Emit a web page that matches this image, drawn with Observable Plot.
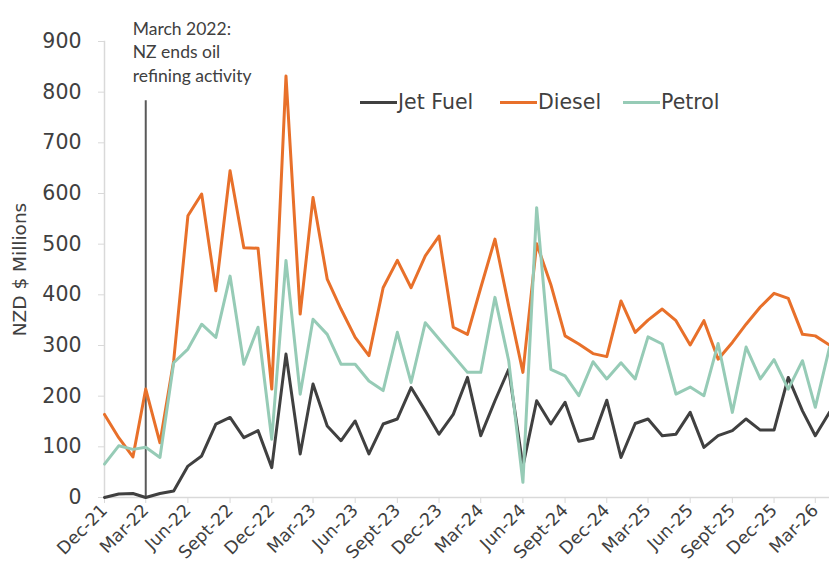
<!DOCTYPE html>
<html>
<head>
<meta charset="utf-8">
<script src="https://cdn.jsdelivr.net/npm/d3@7"></script>
<script src="https://cdn.jsdelivr.net/npm/@observablehq/plot@0.6"></script>
<style>
  html, body { margin: 0; padding: 0; background: #fff; }
  #wrap { position: relative; width: 829px; height: 586px; overflow: hidden; }
  #wrap svg text { font-family: "DejaVu Sans", sans-serif; }
  #wrap svg text.note { font-family: "Lato", sans-serif; }
  #legend { position: absolute; left: 0; top: 88px; width: 829px; height: 28px;
            font-family: "DejaVu Sans", sans-serif; font-size: 20.5px; color: #404040; white-space: nowrap; }
  #legend .item { position: absolute; top: 0; display: flex; align-items: center; height: 28px; }
  #legend .sw { width: 37px; height: 3px; margin-right: 1px; }
</style>
</head>
<body>
<div id="wrap"><div id="legend"></div></div>
<script>
const months = [
  "2021-12",
  "2022-01","2022-02","2022-03","2022-04","2022-05","2022-06","2022-07","2022-08","2022-09","2022-10","2022-11","2022-12",
  "2023-01","2023-02","2023-03","2023-04","2023-05","2023-06","2023-07","2023-08","2023-09","2023-10","2023-11","2023-12",
  "2024-01","2024-02","2024-03","2024-04","2024-05","2024-06","2024-07","2024-08","2024-09","2024-10","2024-11","2024-12",
  "2025-01","2025-02","2025-03","2025-04","2025-05","2025-06","2025-07","2025-08","2025-09","2025-10","2025-11","2025-12",
  "2026-01","2026-02","2026-03","2026-04"
];
const jetFuel = [0,7,8,0,8,13,62,82,145,158,118,132,59,283,86,224,141,112,151,86,145,155,217,171,125,164,237,122,191,253,62,191,145,188,111,117,192,79,146,155,122,125,168,99,122,132,155,133,133,237,171,122,168];
const diesel = [164,118,80,214,108,270,556,599,408,645,493,492,214,832,362,592,431,372,316,280,414,468,414,477,516,336,322,414,510,378,247,501,420,319,303,284,278,388,326,350,372,349,301,349,273,306,342,376,403,393,322,319,301];
const petrol = [66,102,95,99,79,266,293,342,316,437,263,336,115,468,204,352,322,263,263,230,211,326,227,345,313,280,247,247,395,270,30,572,253,240,201,268,234,266,234,317,303,204,218,201,304,168,297,234,272,214,270,178,296];

const seriesNames = ["Jet Fuel", "Diesel", "Petrol"];
const seriesColors = ["#404040", "#e8702a", "#96cbb6"];

const tickMonths = ["2021-12","2022-03","2022-06","2022-09","2022-12","2023-03","2023-06","2023-09","2023-12","2024-03","2024-06","2024-09","2024-12","2025-03","2025-06","2025-09","2025-12","2026-03"];
const tickLabels = ["Dec-21","Mar-22","Jun-22","Sept-22","Dec-22","Mar-23","Jun-23","Sept-23","Dec-23","Mar-24","Jun-24","Sept-24","Dec-24","Mar-25","Jun-25","Sept-25","Dec-25","Mar-26"];
const yTicks = [0,100,200,300,400,500,600,700,800,900];

const annotationMonth = "2022-03";
const annotationTop = 783;
const annotationText = "March 2022:\nNZ ends oil\nrefining activity";
const yTitle = "NZD $ Millions";

const toDate = m => new Date(m + "-01T00:00:00Z");
const seriesValues = [jetFuel, diesel, petrol];
const rows = [];
seriesNames.forEach((name, s) => {
  months.forEach((m, i) => rows.push({date: toDate(m), value: seriesValues[s][i], series: name}));
});
const tickDates = tickMonths.map(toDate);
const labelByTime = new Map(tickDates.map((d, i) => [+d, tickLabels[i]]));

const chart = Plot.plot({
  width: 829,
  height: 586,
  marginLeft: 104,
  marginRight: 0,
  marginTop: 41,
  marginBottom: 89,
  style: {color: "#404040", background: "#fff", overflow: "visible"},
  x: {type: "utc", domain: [toDate(months[0]), toDate(months[months.length - 1])]},
  y: {domain: [0, 900]},
  color: {domain: seriesNames, range: seriesColors},
  marks: [
    Plot.frame({anchor: "left", stroke: "#d9d9d9", strokeWidth: 1.5}),
    Plot.frame({anchor: "bottom", stroke: "#d9d9d9", strokeWidth: 1.5}),
    Plot.axisY({ticks: yTicks, tickSize: 6, tickPadding: 17, fontSize: 20.5, stroke: "#d9d9d9", fill: "#404040", label: null}),
    Plot.axisX({ticks: tickDates, tickFormat: d => labelByTime.get(+d), tickRotate: -45, tickSize: 6, tickPadding: 4, fontSize: 17.5, stroke: "#d9d9d9", fill: "#404040", label: null}),
    Plot.text([yTitle], {frameAnchor: "left", textAnchor: "middle", rotate: -90, dx: -84, fontSize: 18.5, fill: "#404040"}),
    Plot.ruleX([annotationMonth], {x: d => toDate(d), y1: 0, y2: annotationTop, stroke: "#595959", strokeWidth: 2}),
    Plot.text([annotationText], {x: toDate(annotationMonth), frameAnchor: "top", textAnchor: "start", lineAnchor: "top", dx: -13, dy: -23, lineHeight: 1.33, fontSize: 17.5, fill: "#404040"}),
    Plot.lineY(rows, {x: "date", y: "value", stroke: "series", z: "series", strokeWidth: 3})
  ]
});
d3.select(chart).selectAll("text")
  .filter(function() { return this.textContent.startsWith("March 2022"); })
  .classed("note", true);
document.getElementById("wrap").appendChild(chart);

const legendLeft = [360, 500, 623];
const legend = document.getElementById("legend");
seriesNames.forEach((name, i) => {
  const item = document.createElement("div");
  item.className = "item";
  item.style.left = legendLeft[i] + "px";
  const sw = document.createElement("div");
  sw.className = "sw";
  sw.style.background = seriesColors[i];
  const label = document.createElement("span");
  label.textContent = name;
  item.appendChild(sw);
  item.appendChild(label);
  legend.appendChild(item);
});
</script>
</body>
</html>
